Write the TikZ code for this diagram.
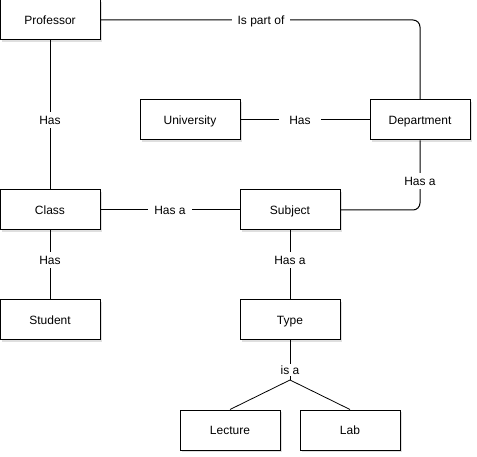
\documentclass[tikz,border=0pt]{standalone}
\usepackage{fontspec}
\setmainfont{Liberation Sans}
\usetikzlibrary{shadows}
\begin{document}
\begin{tikzpicture}[x={(1pt,0)},y={(0,-1pt)},
  box/.style={draw=black,fill=white,line width=1pt,minimum width=100pt,minimum height=40pt,inner sep=0pt,font=\fontsize{12}{14}\selectfont,
    text height=8.5pt,text depth=0pt,
    drop shadow={shadow xshift=2pt,shadow yshift=-2pt,opacity=0.25,fill=gray}},
  lbl/.style={fill=white,inner xsep=6pt,inner ysep=4pt,font=\fontsize{12}{14}\selectfont,text height=8.5pt,text depth=0pt},
  conn/.style={line width=1pt,draw=black}]
\useasboundingbox (0,0) rectangle (477,457);
\node[box] (prof) at (50,20) {Professor};
\node[box] (univ) at (190,120) {University};
\node[box] (dept) at (420,120) {Department};
\node[box] (class) at (50,210) {Class};
\node[box] (subj) at (290,210) {Subject};
\node[box] (stud) at (50,320) {Student};
\node[box] (type) at (290,320) {Type};
\node[box] (lect) at (230,430) {Lecture};
\node[box] (lab) at (350,430) {Lab};
\coordinate (isa) at (290,380);
\draw[conn,rounded corners=7pt] (prof.east) -- (dept.north |- prof.east) -- (dept.north);
\node[lbl] (l1) at (261,20) {Is part of};
\draw[conn] (univ) -- (dept);
\node[lbl,inner xsep=10pt] (l2) at (300,120) {Has};
\draw[conn,rounded corners=7pt] (dept.south) -- (dept.south |- subj.east) -- (subj.east);
\node[lbl,inner xsep=2pt] (l3) at (420,181) {Has a};
\draw[conn] (prof) -- (class);
\node[lbl,inner xsep=2pt] (l4) at (50,120) {Has};
\draw[conn] (class) -- (subj);
\node[lbl] (l5) at (170,210) {Has a};
\draw[conn] (class) -- (stud);
\node[lbl,inner xsep=2pt] (l6) at (50,260) {Has};
\draw[conn] (subj) -- (type);
\node[lbl,inner xsep=2pt] (l7) at (290,260) {Has a};
\draw[conn] (type.south) -- (isa);
\draw[conn,line width=0.8pt] (lect.north) -- (isa) -- (lab.north);
\node[lbl,inner sep=1.5pt] (l8) at (290,370) {is a};
\end{tikzpicture}
\end{document}
